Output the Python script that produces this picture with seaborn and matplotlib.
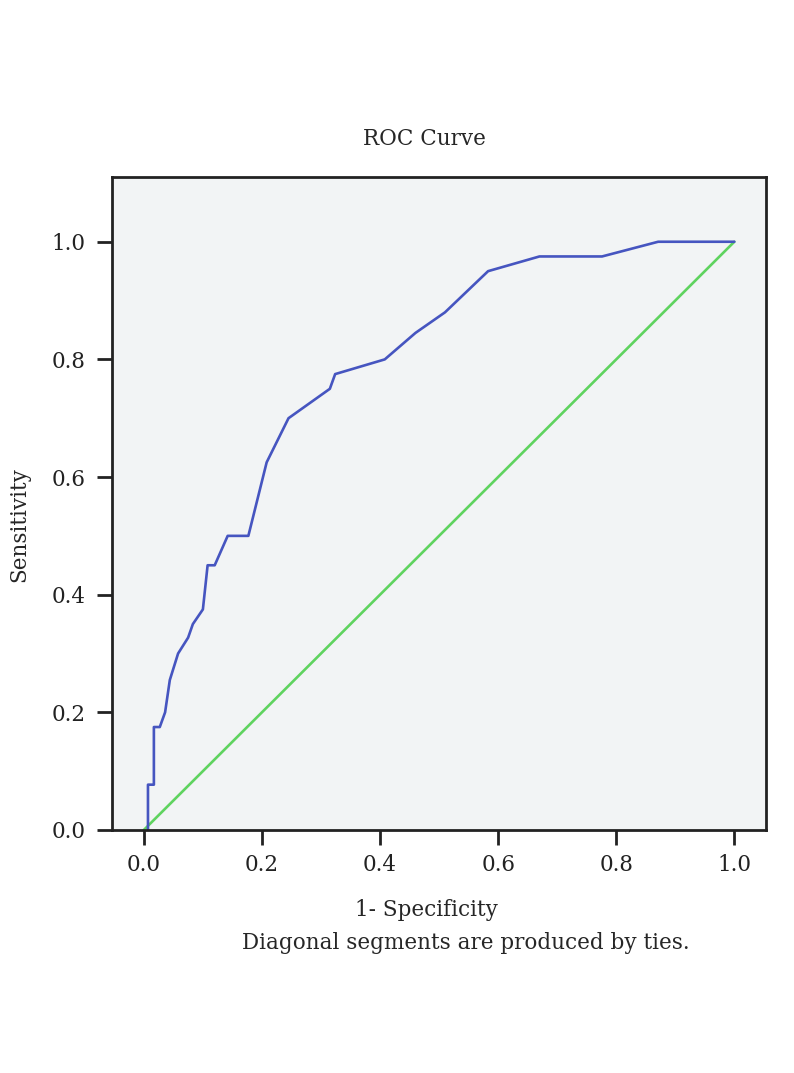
import matplotlib
matplotlib.use("Agg")
from matplotlib import pyplot as plt
import seaborn as sns
import pandas as pd

# ROC curve
FPR = [0.007, 0.007, 0.017, 0.017, 0.027, 0.036, 0.044, 0.058, 0.075, 0.083, 0.100,
       0.108, 0.120, 0.142, 0.177, 0.208, 0.245, 0.280, 0.315, 0.324, 0.408, 0.460,
       0.510, 0.583, 0.670, 0.776, 0.871, 1.000]
TPR = [0.000, 0.077, 0.077, 0.175, 0.175, 0.200, 0.255, 0.300, 0.327, 0.350, 0.375,
       0.450, 0.450, 0.500, 0.500, 0.625, 0.700, 0.725, 0.750, 0.775, 0.800, 0.845,
       0.880, 0.950, 0.975, 0.975, 1.000, 1.000]
REF_X = [0.0, 1.0]
REF_Y = [0.0, 1.0]
TICKS = [0.0, 0.2, 0.4, 0.6, 0.8, 1.0]

FONT = "DejaVu Serif"
FS = 15.5


def main():
    sns.set_style("ticks")
    plt.rcParams["font.family"] = FONT

    curve = pd.DataFrame({"fpr": FPR, "tpr": TPR})
    ref = pd.DataFrame({"x": REF_X, "y": REF_Y})

    fig = plt.figure(figsize=(7.94, 10.73), dpi=100)
    ax = fig.add_axes([0.141, 0.2265, 0.824, 0.6085])
    ax.set_facecolor("#f2f4f5")

    sns.lineplot(data=ref, x="x", y="y", color="#5fd35f", lw=1.9, ax=ax)
    sns.lineplot(data=curve, x="fpr", y="tpr", sort=False, estimator=None,
                 color="#4655c0", lw=1.9, ax=ax)

    ax.set_xlim(-0.054, 1.054)
    ax.set_ylim(0, 1.11)
    ax.set_xticks(TICKS)
    ax.set_yticks(TICKS)
    ax.set_xticklabels([f"{t:.1f}" for t in TICKS])
    ax.set_yticklabels([f"{t:.1f}" for t in TICKS])
    ax.tick_params(length=10.5, width=2, colors="#222222", labelsize=FS)
    ax.tick_params(axis="x", pad=7)
    ax.tick_params(axis="y", pad=8.5)
    for s in ax.spines.values():
        s.set_visible(True)
        s.set_linewidth(2)
        s.set_color("#222222")

    ax.set_xlabel("")
    ax.set_ylabel("Sensitivity", fontsize=FS, va="center")
    ax.yaxis.set_label_coords(-0.141, 0.467)

    fig.text(0.534, 0.870, "ROC Curve", ha="center", va="center", fontsize=FS)
    fig.text(0.5365, 0.152, "1- Specificity", ha="center", va="center", fontsize=FS)
    fig.text(0.587, 0.121, "Diagonal segments are produced by ties.",
             ha="center", va="center", fontsize=FS)

    fig.savefig("out.png", dpi=100)


if __name__ == "__main__":
    main()
